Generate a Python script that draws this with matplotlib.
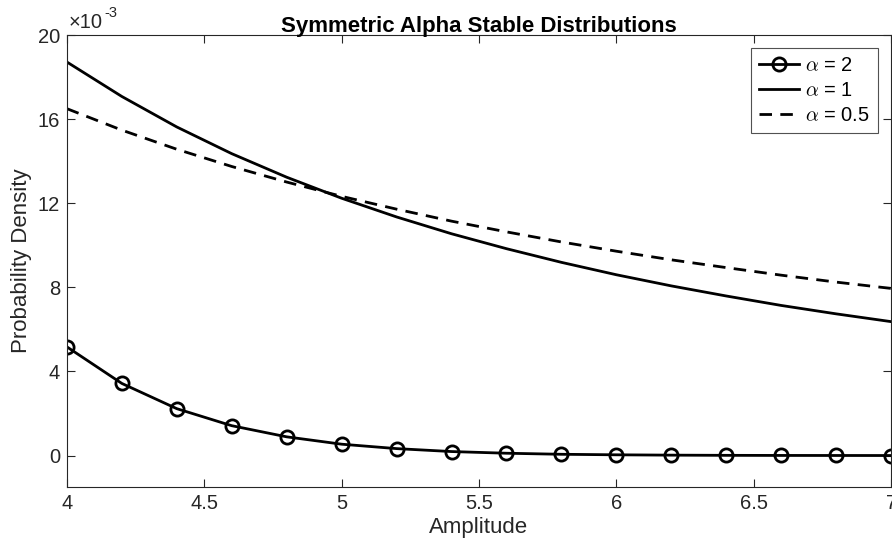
import matplotlib
matplotlib.use('Agg')
import matplotlib.pyplot as plt

plt.rcParams['font.family'] = ['Liberation Sans', 'DejaVu Sans']
plt.rcParams['mathtext.fontset'] = 'cm'

# amplitude grid
amplitude = [4.0, 4.2, 4.4, 4.6, 4.8, 5.0, 5.2, 5.4, 5.6, 5.8,
             6.0, 6.2, 6.4, 6.6, 6.8, 7.0]

# densities (units of 1e-3)
pdf_a2 = [5.17, 3.43, 2.23, 1.42, 0.89, 0.54, 0.33, 0.19, 0.11, 0.06,
          0.035, 0.019, 0.010, 0.005, 0.003, 0.001]
pdf_a1 = [18.72, 17.08, 15.63, 14.36, 13.24, 12.24, 11.35, 10.55, 9.84, 9.19,
          8.60, 8.07, 7.59, 7.14, 6.74, 6.37]
pdf_a05 = [16.50, 15.48, 14.57, 13.75, 13.01, 12.33, 11.72, 11.15, 10.64, 10.16,
           9.72, 9.31, 8.94, 8.58, 8.25, 7.95]

labels = [r'$\alpha$ = 2', r'$\alpha$ = 1', r'$\alpha$ = 0.5']
yticks = [0, 4, 8, 12, 16, 20]
xticks = [4, 4.5, 5, 5.5, 6, 6.5, 7]

gray = '#262626'
tick_fs = 14.5
label_fs = 16

fig = plt.figure(figsize=(8.92, 5.4), dpi=100)
ax = fig.add_axes([0.075, 0.098, 0.924, 0.837])

ax.plot(amplitude, [v * 1e-3 for v in pdf_a2], color='k', lw=2, marker='o',
        markersize=9.5, markerfacecolor='none', markeredgewidth=2, label=labels[0])
ax.plot(amplitude, [v * 1e-3 for v in pdf_a1], color='k', lw=2, label=labels[1])
ax.plot(amplitude, [v * 1e-3 for v in pdf_a05], color='k', lw=2,
        dashes=(4.5, 3), label=labels[2])

ax.set_xlim(4, 7)
ax.set_ylim(-1.5e-3, 20e-3)
ax.set_xticks(xticks)
ax.set_xticklabels([f'{t:g}' for t in xticks])
ax.set_yticks([t * 1e-3 for t in yticks])
ax.set_yticklabels([str(t) for t in yticks])

ax.tick_params(direction='in', top=True, right=True, length=6, width=0.8,
               colors=gray, labelsize=tick_fs, pad=5)
for s in ax.spines.values():
    s.set_color(gray)
    s.set_linewidth(0.8)

# exponent label above the y axis
ax.annotate('\u00d710', xy=(0, 1), xycoords='axes fraction', xytext=(1, 2),
            textcoords='offset points', fontsize=tick_fs, color=gray,
            ha='left', va='bottom')
ax.annotate('-3', xy=(0, 1), xycoords='axes fraction', xytext=(27, 11),
            textcoords='offset points', fontsize=10.5, color=gray,
            ha='left', va='bottom')

ax.set_xlabel('Amplitude', fontsize=label_fs, color=gray, labelpad=3)
ax.set_ylabel('Probability Density', fontsize=label_fs, color=gray, labelpad=4)
ax.set_title('Symmetric Alpha Stable Distributions', fontsize=label_fs,
             fontweight='bold', pad=2)

leg = ax.legend(loc='upper right', fontsize=tick_fs, frameon=True, fancybox=False,
                edgecolor=gray, handlelength=2.0, handletextpad=0.3,
                borderpad=0.4, labelspacing=0.3, borderaxespad=0.65)
leg.get_frame().set_linewidth(0.8)

fig.savefig('out.png', dpi=100)
